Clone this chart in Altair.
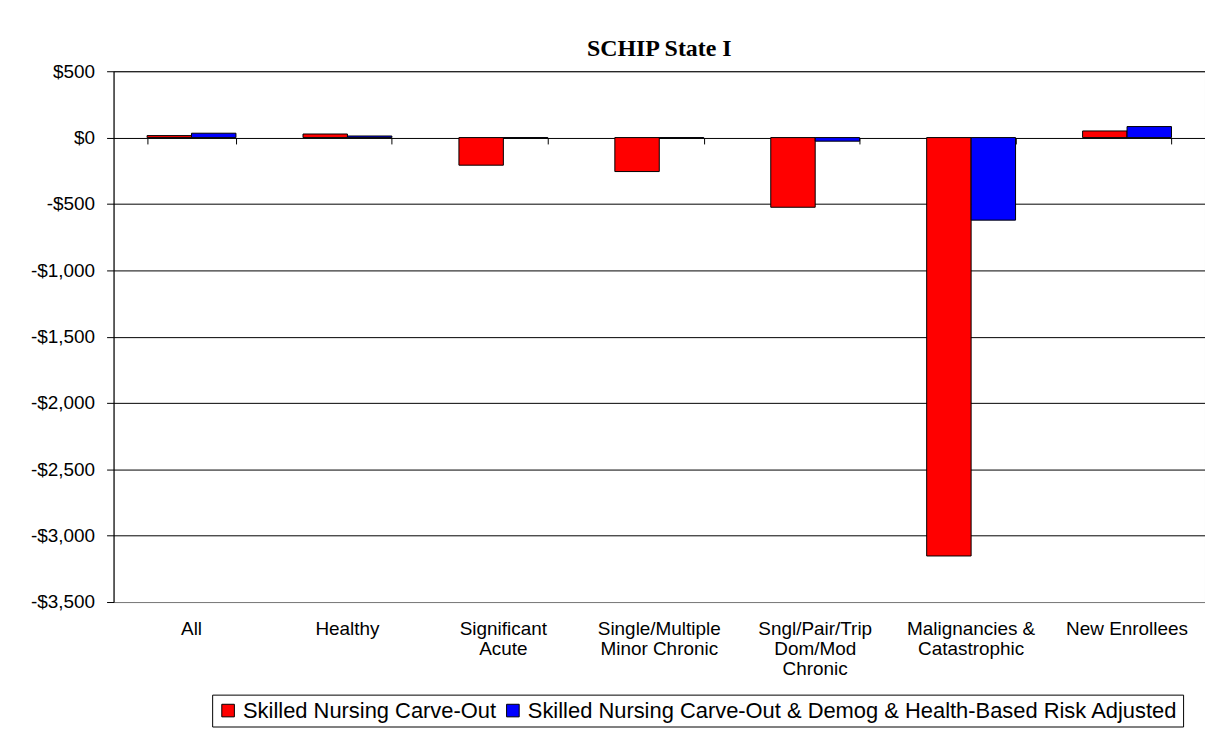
import altair as alt
import pandas as pd

categories = ["All", "Healthy", "Significant|Acute", "Single/Multiple|Minor Chronic",
              "Sngl/Pair/Trip|Dom/Mod|Chronic", "Malignancies &|Catastrophic", "New Enrollees"]
series_names = ["Skilled Nursing Carve-Out",
                "Skilled Nursing Carve-Out & Demog & Health-Based Risk Adjusted"]
carve_out = [15, 27, -208, -256, -525, -3153, 50]
risk_adjusted = [33, 12, -3, -3, -27, -622, 83]
y_ticks = [500, 0, -500, -1000, -1500, -2000, -2500, -3000, -3500]
colors = ["#FF0000", "#0000FF"]

rows = []
for c, a, b in zip(categories, carve_out, risk_adjusted):
    rows.append({"category": c, "series": series_names[0], "value": a})
    rows.append({"category": c, "series": series_names[1], "value": b})
df = pd.DataFrame(rows)

x_enc_labels = alt.X("category:N", sort=categories, title=None,
                     scale=alt.Scale(paddingInner=0.43, paddingOuter=0.215),
                     axis=alt.Axis(orient="bottom", labelAngle=0, ticks=False,
                                   domainColor="#808080", labelFont="Liberation Sans",
                                   labelFontSize=19, labelColor="black", labelLineHeight=20,
                                   labelPadding=18, labelBaseline="top",
                                   labelExpr="split(datum.label, '|')"))

bars = alt.Chart(df).mark_bar(stroke="black", strokeWidth=1).encode(
    x=x_enc_labels,
    xOffset=alt.XOffset("series:N", sort=series_names, scale=alt.Scale(paddingInner=0, paddingOuter=0)),
    y=alt.Y("value:Q", title=None,
            scale=alt.Scale(domain=[-3500, 500], nice=False, zero=False),
            axis=alt.Axis(values=y_ticks, grid=True, gridColor="#000000", gridWidth=1,
                          domainColor="black", tickColor="black", tickSize=7,
                          labelFont="Liberation Sans", labelFontSize=19, labelColor="black",
                          labelPadding=12,
                          labelExpr="datum.value < 0 ? '-$' + format(-datum.value, ',') : '$' + format(datum.value, ',')")),
    color=alt.Color("series:N", sort=series_names,
                    scale=alt.Scale(domain=series_names, range=colors),
                    legend=alt.Legend(title=None, orient="none", legendX=99, legendY=626,
                                      direction="horizontal", columns=2,
                                      symbolType="square", symbolSize=160,
                                      symbolStrokeColor="black", symbolStrokeWidth=1,
                                      labelFont="Liberation Sans", labelFontSize=22,
                                      labelColor="black", labelLimit=1000,
                                      columnPadding=5, symbolOffset=0,
                                      strokeColor="black", fillColor="white", padding=5)),
)

zero_ticks = alt.Chart(pd.DataFrame({"category": categories})).mark_text(text="").encode(
    x=alt.X("category:N", sort=categories, title=None,
            axis=alt.Axis(orient="bottom", offset=-466, domain=False, labels=False,
                          ticks=True, tickBand="extent", tickSize=6, tickColor="black")),
    y=alt.datum(0),
)

chart = alt.layer(bars, zero_ticks).resolve_axis(x="independent").properties(
    width=1096, height=533,
    title=alt.Title("SCHIP State I", font="Liberation Serif", fontSize=24, fontWeight="bold",
                    color="black", anchor="middle", offset=1),
    padding={"left": 22, "top": 28, "right": 0, "bottom": 0},
).configure_view(stroke="#808080", strokeWidth=1)

chart.save("out.html", embed_options={"renderer": "svg", "actions": False})
